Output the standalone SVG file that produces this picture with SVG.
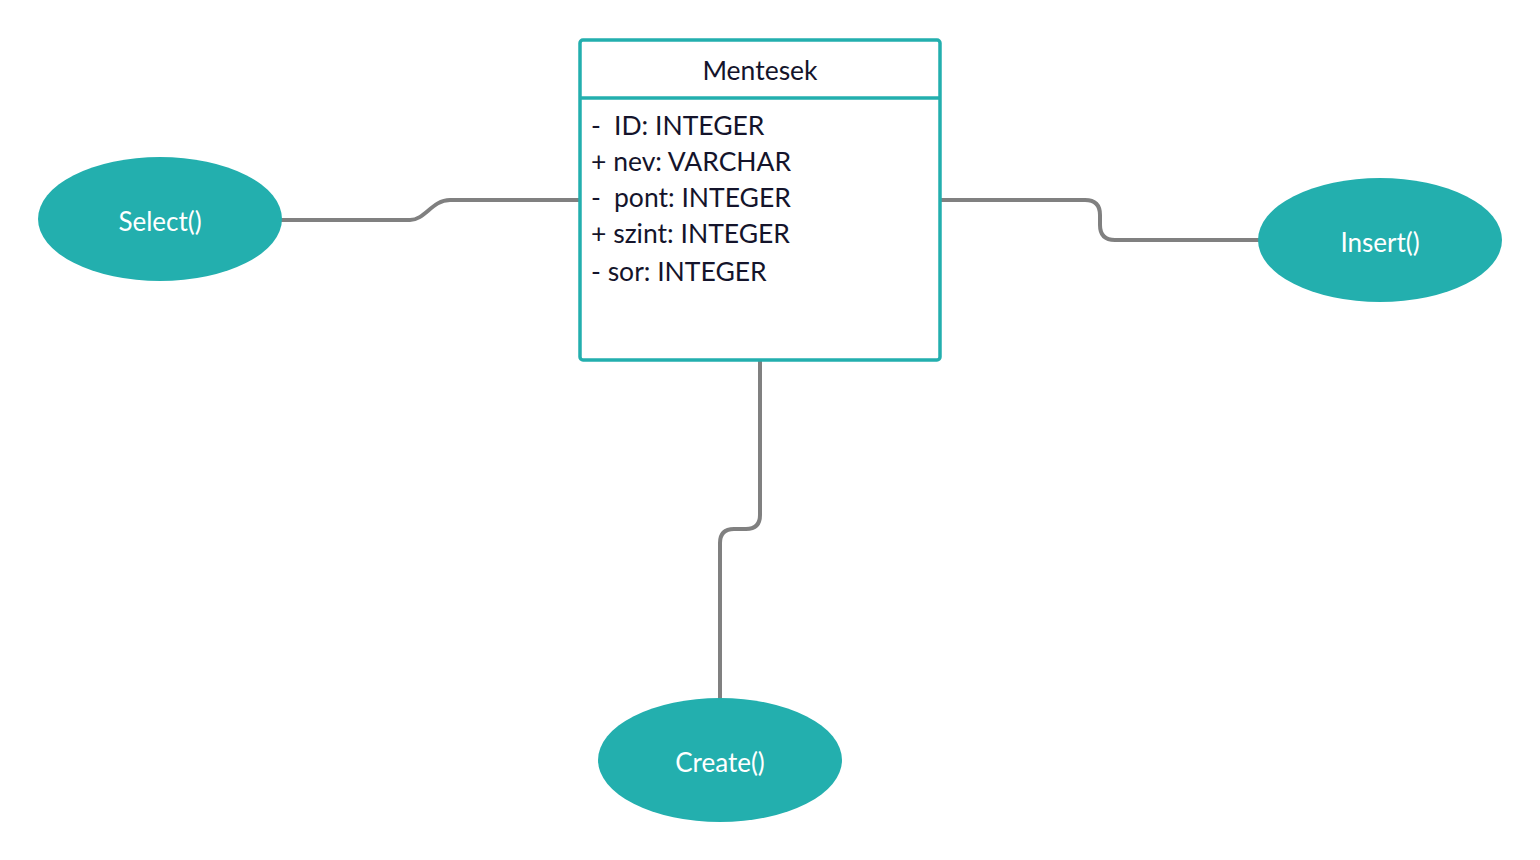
<svg xmlns="http://www.w3.org/2000/svg" width="1540" height="860" viewBox="0 0 1540 860">
<style>
.conn{fill:none;stroke:#808080;stroke-width:4}
.ell{fill:#23afae}
.etxt{font-family:Lato,"Open Sans",sans-serif;font-size:26px;fill:#ffffff;text-anchor:middle}
.box{fill:#ffffff;stroke:#23afae;stroke-width:3.5}
.ctxt{font-family:Lato,"Open Sans",sans-serif;font-size:26.5px;fill:#14142b}
</style>
<rect width="1540" height="860" fill="#ffffff"/>
<g id="connectors">
<path class="conn" d="M281,220 H410 C425,220 432,200 450,200 H580"/>
<path class="conn" d="M940,200 H1085 Q1100,200 1100,215 V225 Q1100,240 1115,240 H1259"/>
<path class="conn" d="M760,360 V515 Q760,529 746,529 H734 Q720,529 720,543 V700"/>
</g>
<g id="class-mentesek">
<rect class="box" x="580" y="40" width="360" height="320" rx="3"/>
<line x1="580" y1="98" x2="940" y2="98" stroke="#23afae" stroke-width="3.5"/>
<text class="ctxt" x="760" y="80" text-anchor="middle" font-size="25">Mentesek</text>
<text class="ctxt" x="591" y="135">-</text>
<text class="ctxt" x="614" y="135">ID: INTEGER</text>
<text class="ctxt" x="591" y="171">+ nev: VARCHAR</text>
<text class="ctxt" x="591" y="207">-</text>
<text class="ctxt" x="614" y="207">pont: INTEGER</text>
<text class="ctxt" x="591" y="243">+ szint: INTEGER</text>
<text class="ctxt" x="591" y="281">- sor: INTEGER</text>
</g>
<g id="node-select">
<ellipse class="ell" cx="160" cy="219" rx="122" ry="62"/>
<text class="etxt" x="160" y="231">Select()</text>
</g>
<g id="node-insert">
<ellipse class="ell" cx="1380" cy="240" rx="122" ry="62"/>
<text class="etxt" x="1380" y="252">Insert()</text>
</g>
<g id="node-create">
<ellipse class="ell" cx="720" cy="760" rx="122" ry="62"/>
<text class="etxt" x="720" y="772">Create()</text>
</g>
</svg>
